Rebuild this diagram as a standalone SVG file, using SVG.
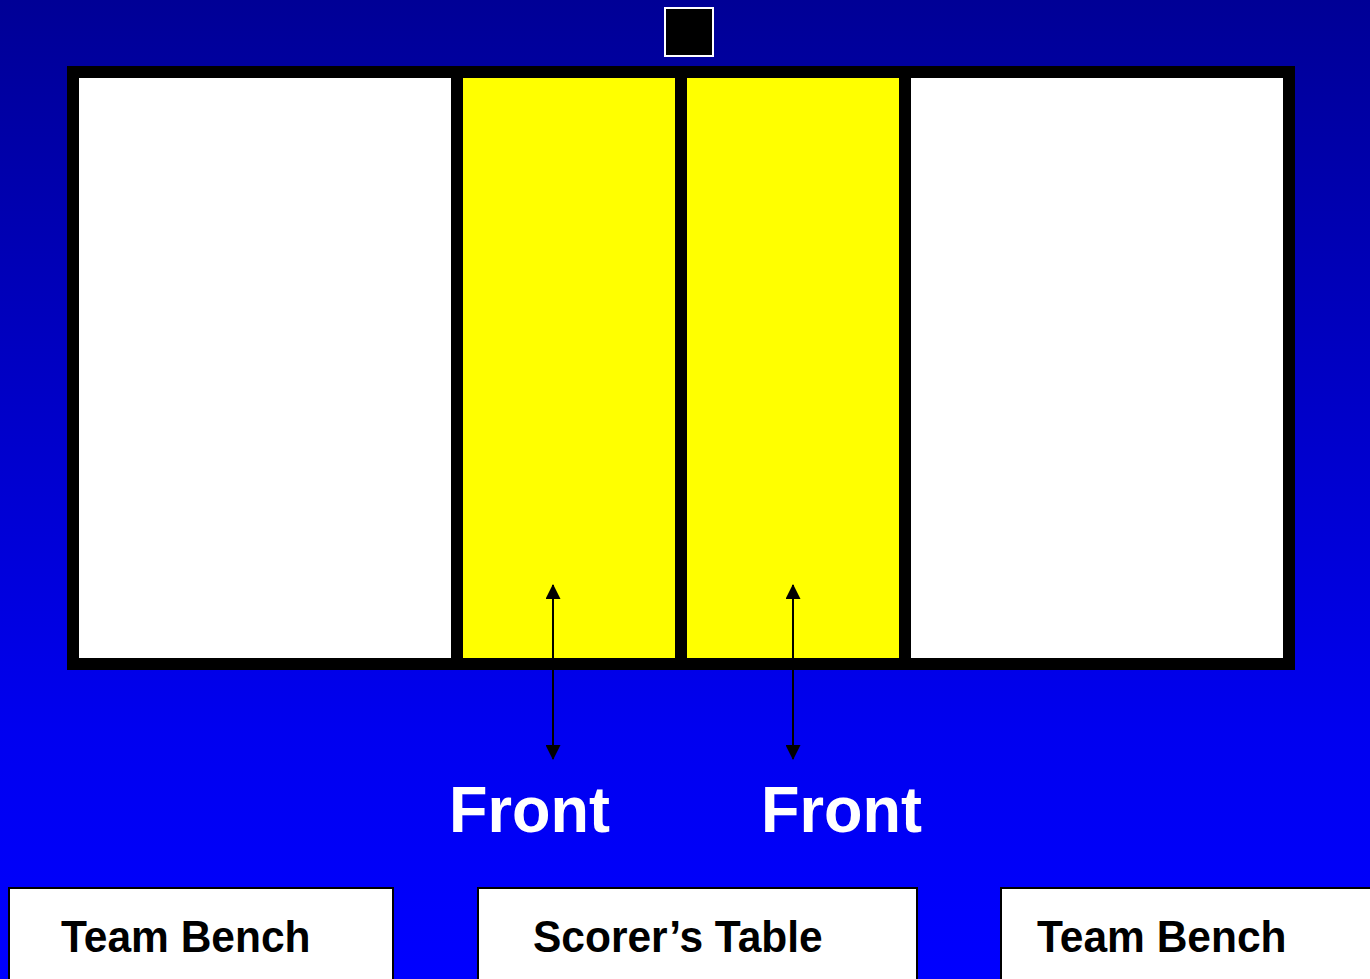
<svg xmlns="http://www.w3.org/2000/svg" width="1370" height="979" viewBox="0 0 1370 979">
<defs>
<linearGradient id="bg" x1="0" y1="0" x2="0" y2="1">
<stop offset="0" stop-color="#000096"/>
<stop offset="0.75" stop-color="#0000F0"/>
<stop offset="1" stop-color="#0000FF"/>
</linearGradient>
<marker id="ah" viewBox="0 0 15 15" refX="14" refY="7.5" markerWidth="15" markerHeight="15" markerUnits="userSpaceOnUse" orient="auto-start-reverse">
<path d="M0,0 L15,7.5 L0,15 Z" fill="#000"/>
</marker>
<style>
.line{stroke:#000;stroke-width:12;fill:none}
.box{fill:#fff;stroke:#000;stroke-width:2}
.lbl{font-family:"Liberation Sans",Arial,sans-serif;font-weight:bold;font-size:42.5px;fill:#000}
.front{font-family:"Liberation Sans",Arial,sans-serif;font-weight:bold;font-size:63px;fill:#fff}
.arrow{stroke:#000;stroke-width:2;fill:none}
</style>
</defs>
<rect x="0" y="0" width="1370" height="979" fill="url(#bg)"/>
<g id="post">
<rect x="665" y="8" width="48" height="48" fill="#000" stroke="#fff" stroke-width="2"/>
</g>
<g id="court">
<rect x="73" y="72" width="1216" height="592" fill="#fff"/>
<rect x="463" y="78" width="212" height="580" fill="#ff0"/>
<rect x="687" y="78" width="212" height="580" fill="#ff0"/>
<rect x="73" y="72" width="1216" height="592" class="line"/>
<line x1="457" y1="72" x2="457" y2="664" class="line"/>
<line x1="681" y1="72" x2="681" y2="664" class="line"/>
<line x1="905" y1="72" x2="905" y2="664" class="line"/>
</g>
<g id="connectors">
<line x1="553" y1="585" x2="553" y2="759" class="arrow" marker-start="url(#ah)" marker-end="url(#ah)"/>
<line x1="793" y1="585" x2="793" y2="759" class="arrow" marker-start="url(#ah)" marker-end="url(#ah)"/>
</g>
<g id="front-left">
<text class="front" transform="translate(449,832) scale(1,1.03)">Front</text>
</g>
<g id="front-right">
<text class="front" transform="translate(761,832) scale(1,1.03)">Front</text>
</g>
<g id="bench-left">
<rect x="9" y="888" width="384" height="100" class="box"/>
<text class="lbl" transform="translate(61,952) scale(1,1.05)">Team Bench</text>
</g>
<g id="scorers-table">
<rect x="478" y="888" width="439" height="100" class="box"/>
<text class="lbl" transform="translate(533,952) scale(1,1.05)">Scorer’s Table</text>
</g>
<g id="bench-right">
<rect x="1001" y="888" width="380" height="100" class="box"/>
<text class="lbl" transform="translate(1037,952) scale(1,1.05)">Team Bench</text>
</g>
</svg>
